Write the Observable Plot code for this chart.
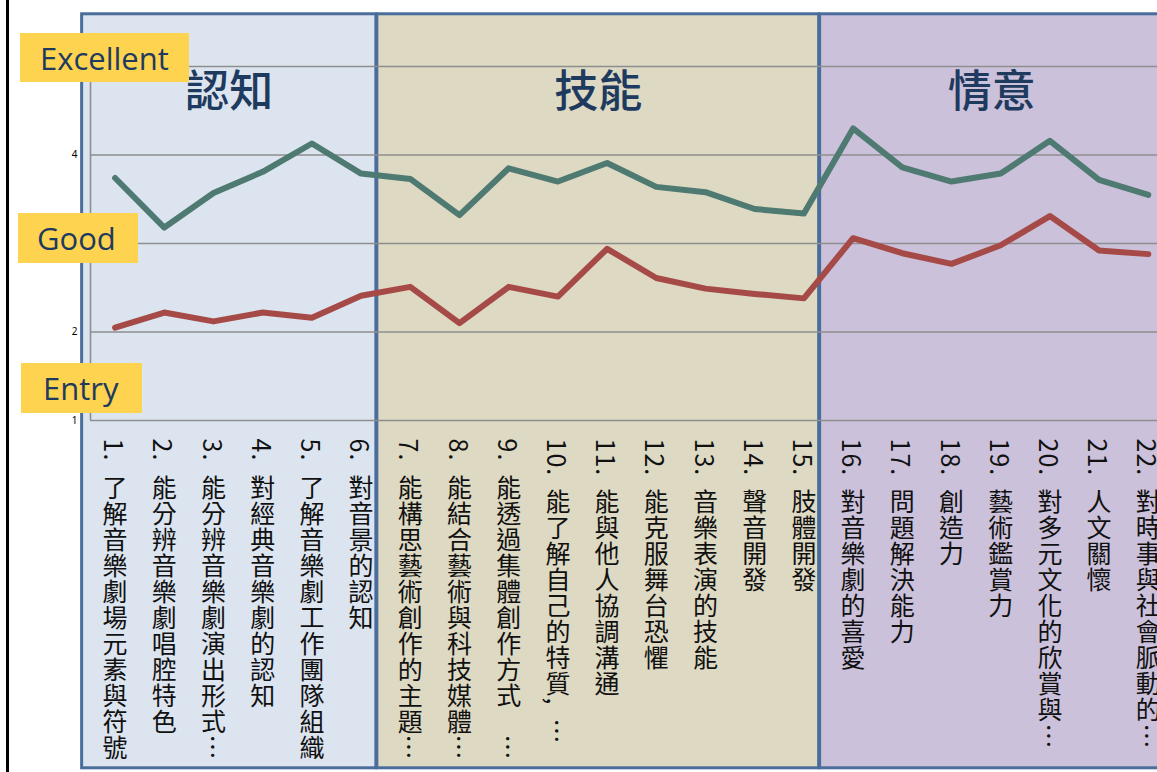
<!DOCTYPE html>
<html>
<head>
<meta charset="utf-8">
<script src="https://cdn.jsdelivr.net/npm/d3@7"></script>
<script src="https://cdn.jsdelivr.net/npm/@observablehq/plot@0.6"></script>
<style>
html, body { margin: 0; padding: 0; background: #fff; overflow: hidden; }
#wrap { position: relative; width: 1157px; height: 772px; }
#chart svg { display: block; }
.badge { position: absolute; background: #fdd34f; color: #1f3a5f; font-family: "Open Sans", sans-serif; font-size: 31px; display: flex; align-items: center; box-sizing: border-box; white-space: nowrap; }
#frame { position: absolute; left: 6px; top: 0; width: 2.5px; height: 772px; background: #000; }
</style>
</head>
<body>
<div id="wrap"><div id="chart"></div><div id="frame"></div></div>
<script>
// ---- data ----
const categories = [
  "了解音樂劇場元素與符號", "能分辨音樂劇唱腔特色", "能分辨音樂劇演出形式…", "對經典音樂劇的認知",
  "了解音樂劇工作團隊組織", "對音景的認知", "能構思藝術創作的主題…", "能結合藝術與科技媒體…",
  "能透過集體創作方式　…", "能了解自己的特質,\u00a0\u00a0…", "能與他人協調溝通", "能克服舞台恐懼",
  "音樂表演的技能", "聲音開發", "肢體開發", "對音樂劇的喜愛", "問題解決能力", "創造力",
  "藝術鑑賞力", "對多元文化的欣賞與…", "人文關懷", "對時事與社會脈動的…"
];
const upperSeries = [3.74, 3.18, 3.57, 3.81, 4.13, 3.79, 3.73, 3.32, 3.85, 3.70, 3.91, 3.64, 3.58, 3.39, 3.34, 4.30, 3.86, 3.70, 3.79, 4.16, 3.72, 3.55];
const lowerSeries = [2.05, 2.22, 2.12, 2.22, 2.16, 2.41, 2.51, 2.10, 2.51, 2.40, 2.94, 2.61, 2.49, 2.43, 2.38, 3.06, 2.89, 2.77, 2.98, 3.31, 2.92, 2.88];
const groupNames = ["認知", "技能", "情意"];
const groupSizes = [6, 9, 7];
const gridValues = [1, 2, 3, 4, 5];
const tickLabels = [1, 2, 4]; // 3 and 5 are hidden behind the level badges
const levelLabels = ["Excellent", "Good", "Entry"];

// ---- styles / layout ----
const groupFills = ["#dce4ef", "#ddd9c3", "#cbc1db"];
const upperColor = "#4f7a72";
const lowerColor = "#a64a47";
const W = 1157, H = 772, mL = 90, mT = 66, mB = 352, step = 49.2;
const xMax = 0.5 + (W - mL) / step;
const panelTop = 5.59, panelBottom = -2.93, titleY = 4.70;
const badgeLayout = [
  {left: 20, top: 33, width: 169, height: 49, pad: 20},
  {left: 18, top: 213, width: 120, height: 50, pad: 19},
  {left: 21, top: 363, width: 121, height: 50, pad: 22}
];

const idx = categories.map((_, i) => i + 1);
let start = 1;
const panels = groupNames.map((name, g) => {
  const from = start, to = start + groupSizes[g] - 1;
  start = to + 1;
  return {name, from, to, fill: groupFills[g], x1: from - 0.5 - 0.17, x2: to + 0.5 - 0.19};
});
const upperRows = idx.map(i => ({i, v: upperSeries[i - 1]}));
const lowerRows = idx.map(i => ({i, v: lowerSeries[i - 1]}));

const cjk = "'Noto Sans CJK TC', 'Noto Sans CJK SC', sans-serif";

const plot = Plot.plot({
  width: W, height: H,
  marginLeft: mL, marginRight: 0, marginTop: mT, marginBottom: mB,
  color: {type: "identity"},
  x: {type: "linear", domain: [0.5, xMax], axis: null},
  y: {domain: [1, 5], ticks: tickLabels, tickSize: 0, tickPadding: 13, label: null, tickFormat: d => String(d)},
  style: {background: "#fff", color: "#000", fontSize: "10px"},
  marks: [
    Plot.rect(panels, {x1: "x1", x2: "x2", y1: () => panelBottom, y2: () => panelTop, fill: "fill", stroke: "#4a6d9c", strokeWidth: 3}),
    Plot.ruleY(gridValues, {stroke: "#8e8e8e", strokeWidth: 1.6}),
    Plot.ruleX([0.5], {y1: 1, y2: 5, stroke: "#8e8e8e", strokeWidth: 1.6}),
    Plot.line(upperRows, {x: "i", y: "v", stroke: upperColor, strokeWidth: 6, strokeLinejoin: "round"}),
    Plot.line(lowerRows, {x: "i", y: "v", stroke: lowerColor, strokeWidth: 6, strokeLinejoin: "round"}),
    Plot.text(panels, {x: d => (d.x1 + d.x2) / 2, y: () => titleY, text: "name", fontSize: 44, fontWeight: 500, fill: "#1f3a5f", fontFamily: cjk}),
    Plot.text(idx, {x: d => d, y: () => 1, text: d => `${d}.\u00a0\u00a0${categories[d - 1]}`, textAnchor: "start", lineAnchor: "bottom", dy: 18, fontSize: 25, fill: "#111", fontFamily: cjk})
  ]
});

// vertical writing for category labels
plot.querySelectorAll('g[aria-label="text"]').forEach(g => {
  const ts = g.querySelectorAll("text");
  if (ts.length === categories.length) {
    ts.forEach(t => {
      t.setAttribute("writing-mode", "vertical-rl");
      t.style.writingMode = "vertical-rl";
      t.style.textOrientation = "mixed";
      t.style.letterSpacing = "1px";
    });
  }
});

document.getElementById("chart").appendChild(plot);

const wrap = document.getElementById("wrap");
levelLabels.forEach((lab, k) => {
  const b = badgeLayout[k];
  const div = document.createElement("div");
  div.className = "badge";
  div.style.left = b.left + "px";
  div.style.top = b.top + "px";
  div.style.width = b.width + "px";
  div.style.height = b.height + "px";
  div.style.paddingLeft = b.pad + "px";
  div.textContent = lab;
  wrap.appendChild(div);
});
</script>
</body>
</html>
